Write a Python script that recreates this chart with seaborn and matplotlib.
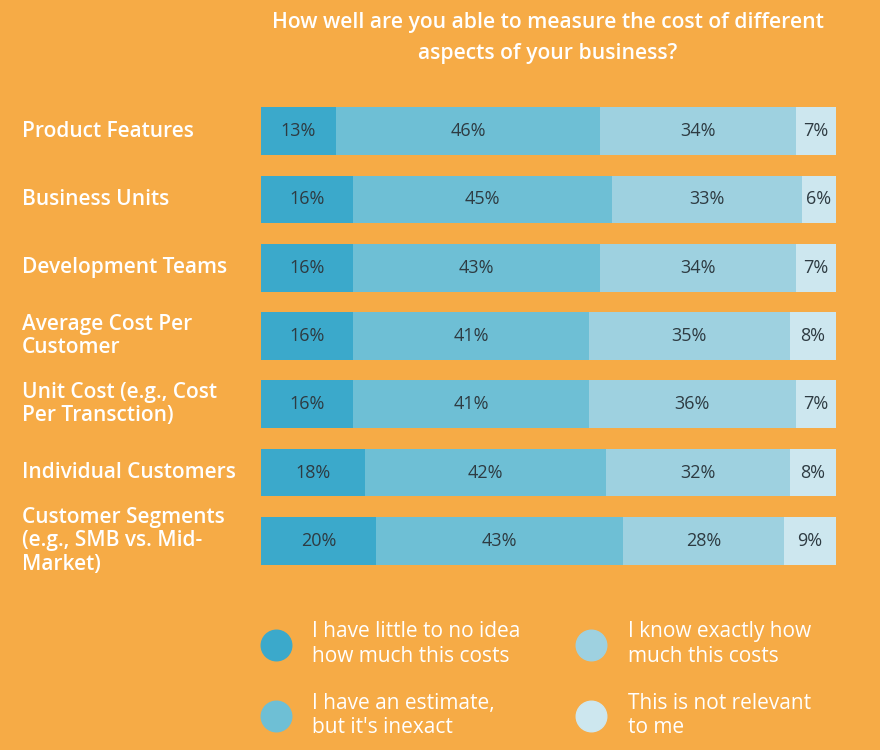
import pandas as pd
import seaborn as sns
import matplotlib.pyplot as plt
from matplotlib.lines import Line2D
from matplotlib import transforms

# data
aspects = [
    "Product Features",
    "Business Units",
    "Development Teams",
    "Average Cost Per\nCustomer",
    "Unit Cost (e.g., Cost\nPer Transction)",
    "Individual Customers",
    "Customer Segments\n(e.g., SMB vs. Mid-\nMarket)",
]
answers = [
    "I have little to no idea\nhow much this costs",
    "I have an estimate,\nbut it's inexact",
    "I know exactly how\nmuch this costs",
    "This is not relevant\nto me",
]
no_idea = [13, 16, 16, 16, 16, 18, 20]
estimate = [46, 45, 43, 41, 41, 42, 43]
exact = [34, 33, 34, 35, 36, 32, 28]
not_relevant = [7, 6, 7, 8, 7, 8, 9]

title = "How well are you able to measure the cost of different\naspects of your business?"

bg = "#F6AB46"
colors = ["#3BA9CB", "#6EBFD5", "#9ED1E0", "#CDE7EF"]

sns.set_theme(style="white")
plt.rcParams["font.family"] = ["Open Sans", "DejaVu Sans"]

df = pd.DataFrame({"aspect": aspects})
series = [no_idea, estimate, exact, not_relevant]
cum = []
run = [0] * len(aspects)
for s in series:
    run = [a + b for a, b in zip(run, s)]
    cum.append(run)

fig = plt.figure(figsize=(8.8, 7.5), dpi=100, facecolor=bg)
ax = fig.add_axes([261 / 880, 1 - 575 / 750, (836 - 261) / 880, (575 - 97) / 750])
ax.set_facecolor(bg)

# stacked bars: draw cumulative totals from the widest down
for i in range(len(series) - 1, -1, -1):
    d = df.copy()
    d["cum"] = cum[i]
    sns.barplot(data=d, x="cum", y="aspect", orient="h", color=colors[i],
                width=0.7, linewidth=0, saturation=1, ax=ax)

ax.set_xlim(0, 100)
ax.set_ylim(len(aspects) - 0.5, -0.5)
ax.set_xticks([])
ax.set_yticks([])
ax.set_xlabel("")
ax.set_ylabel("")
for sp in ax.spines.values():
    sp.set_visible(False)

# segment labels
for i, s in enumerate(series):
    for j, v in enumerate(s):
        left = cum[i][j] - v
        ax.text(left + v / 2, j, f"{v}%", ha="center", va="center",
                fontsize=13, color="#2E3B42")

# category labels
tr = transforms.blended_transform_factory(fig.transFigure, ax.transData)
for j, name in enumerate(aspects):
    fig.text(22 / 880, j, name, transform=tr, ha="left", va="center",
             fontsize=15, fontweight="semibold", color="white", linespacing=1.15)

fig.text(548 / 880, 1 - 38 / 750, title, ha="center", va="center",
         fontsize=15.2, fontweight="semibold", color="white", linespacing=1.6)

handles = [Line2D([], [], marker="o", linestyle="", markersize=22,
                  markerfacecolor=c, markeredgecolor=c) for c in colors]
fig.legend(handles, answers, loc="upper left", bbox_to_anchor=(251 / 880, 1 - 611 / 750),
           ncol=2, frameon=False, labelcolor="white", fontsize=15,
           handletextpad=1.05, columnspacing=2.67, labelspacing=1.25, borderpad=0,
           handlelength=1.4)

plt.savefig("out.png", dpi=100, facecolor=bg)
